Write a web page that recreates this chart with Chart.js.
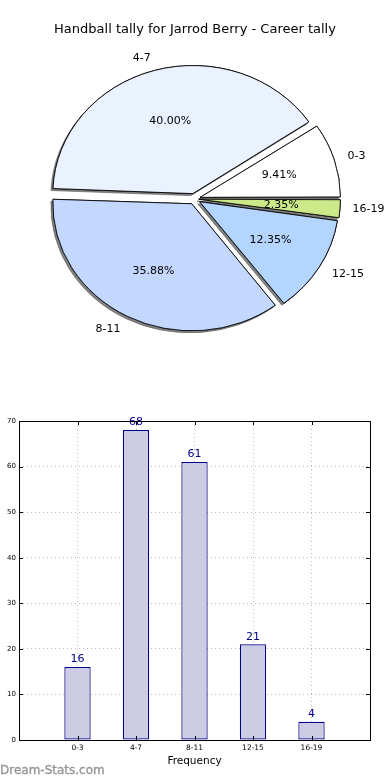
<!DOCTYPE html>
<html><head><meta charset="utf-8">
<script src="https://cdn.jsdelivr.net/npm/chart.js@4/dist/chart.umd.min.js"></script>
<style>
html,body{margin:0;padding:0;background:#fff;width:390px;height:780px;overflow:hidden}
#pieWrap{position:absolute;left:0;top:0;width:390px;height:400px}
#barWrap{position:absolute;left:0;top:400px;width:390px;height:380px}
#wm{position:absolute;left:0;top:763px;font:12px "DejaVu Sans";color:#969696;white-space:nowrap;-webkit-text-stroke:0.35px #969696}
</style></head><body>
<div id="pieWrap"><canvas id="pie"></canvas></div>
<div id="barWrap"><canvas id="bar"></canvas></div>
<div id="wm">Dream-Stats.com</div>
<script>
const chartTitle = 'Handball tally for Jarrod Berry - Career tally';
const categories = ['0-3', '4-7', '8-11', '12-15', '16-19'];
const counts = [16, 68, 61, 21, 4];
const sliceColors = ['#ffffff', '#eaf1ff', '#c4d8ff', '#b3d5ff', '#cdea8a'];
const yTickValues = [0, 10, 20, 30, 40, 50, 60, 70];
const xTickValues = [-1, 0, 1, 2, 3, 4, 5];
const xAxisTitle = 'Frequency';

const FONT = '"DejaVu Sans", sans-serif';
const KY = 0.915;       // vertical squash of the pie (matplotlib non-equal aspect)
const PIE_R = 137.5;
const sliceOffsets = [24, 24, 24, 24, 18];   // arc offset option per slice (Chart.js draws offset/4)
const total = counts.reduce((a, b) => a + b, 0);

// pie drawn clockwise from 3 o'clock: reverse order reproduces matplotlib's CCW layout
const pieLabels = categories.slice().reverse();
const pieValues = counts.slice().reverse();
const pieColors = sliceColors.slice().reverse();
const pieOffsets = sliceOffsets.slice().reverse();

const pieDecor = {
  id: 'pieDecor',
  beforeDatasetsDraw(chart) {
    const meta = chart.getDatasetMeta(0);
    const el0 = meta.data[0];
    const cx = el0.x, cy = el0.y;
    const ctx = chart.ctx;
    ctx.save();
    ctx.translate(cx, cy); ctx.scale(1, KY); ctx.translate(-cx, -cy);
    ctx.save();
    ctx.shadowColor = 'rgba(90,90,90,0.75)';
    ctx.shadowOffsetX = -2; ctx.shadowOffsetY = 2; ctx.shadowBlur = 0;
    meta.data.forEach(a => a.draw(ctx));
    ctx.restore();
  },
  afterDatasetsDraw(chart) {
    const ctx = chart.ctx;
    ctx.restore();
    const meta = chart.getDatasetMeta(0);
    ctx.save();
    ctx.fillStyle = '#000';
    ctx.font = '11px ' + FONT;
    ctx.textBaseline = 'middle';
    meta.data.forEach((a, i) => {
      const mid = (a.startAngle + a.endAngle) / 2;
      const c = Math.cos(mid), s = Math.sin(mid);
      const R = a.outerRadius;
      const eo = pieOffsets[i] / 4;
      const lr = R * 1.12 + eo;
      ctx.textAlign = c > 0 ? 'left' : 'right';
      ctx.fillText(pieLabels[i], a.x + c * lr, a.y + s * lr * KY);
      const pr = R * 0.6 + eo;
      ctx.textAlign = 'center';
      ctx.fillText((pieValues[i] / total * 100).toFixed(2) + '%', a.x + c * pr, a.y + s * pr * KY);
    });
    ctx.font = '13px ' + FONT;
    ctx.textAlign = 'center';
    ctx.fillText(chartTitle, 195, 30);
    ctx.restore();
  }
};

new Chart(document.getElementById('pie'), {
  type: 'pie',
  data: {
    labels: pieLabels,
    datasets: [{
      data: pieValues,
      backgroundColor: pieColors,
      borderColor: '#000',
      borderWidth: 0.9,
      offset: pieOffsets
    }]
  },
  options: {
    animation: false,
    responsive: true,
    maintainAspectRatio: false,
    rotation: 90,
    radius: PIE_R,
    layout: { padding: { left: 0, right: 1, top: 0, bottom: 2.2 } },
    plugins: { legend: { display: false }, tooltip: { enabled: false }, title: { display: false } },
    events: []
  },
  plugins: [pieDecor]
});

const barDecor = {
  id: 'barDecor',
  afterDatasetsDraw(chart) {
    const ctx = chart.ctx;
    const meta = chart.getDatasetMeta(0);
    ctx.save();
    ctx.fillStyle = '#00008b';
    ctx.font = '11px ' + FONT;
    ctx.textAlign = 'center';
    ctx.textBaseline = 'bottom';
    meta.data.forEach((b, i) => ctx.fillText(String(counts[i]), b.x, b.y - 2));
    ctx.restore();
  },
  afterDraw(chart) {
    const ctx = chart.ctx;
    const a = chart.chartArea;
    const xs = chart.scales.x, ys = chart.scales.y;
    ctx.save();
    ctx.strokeStyle = '#000';
    ctx.lineWidth = 1;
    ctx.strokeRect(Math.round(a.left) + 0.5, Math.round(a.top) + 0.5, Math.round(a.right - a.left), Math.round(a.bottom - a.top));
    ctx.beginPath();
    yTickValues.forEach(v => {
      const y = Math.round(ys.getPixelForValue(v)) + 0.5;
      ctx.moveTo(a.left, y); ctx.lineTo(a.left + 4, y);
      ctx.moveTo(a.right, y); ctx.lineTo(a.right - 4, y);
    });
    xTickValues.forEach(v => {
      const x = Math.round(xs.getPixelForValue(v)) + 0.5;
      ctx.moveTo(x, a.bottom); ctx.lineTo(x, a.bottom - 4);
      ctx.moveTo(x, a.top); ctx.lineTo(x, a.top + 4);
    });
    ctx.stroke();
    ctx.restore();
  }
};

new Chart(document.getElementById('bar'), {
  type: 'bar',
  data: {
    datasets: [{
      data: categories.map((c, i) => ({ x: i, y: counts[i] })),
      backgroundColor: '#ccccE4',
      borderColor: '#00008b',
      borderWidth: 1.2,
      borderSkipped: false,
      barPercentage: 0.45,
      categoryPercentage: 1
    }]
  },
  options: {
    animation: false,
    responsive: true,
    maintainAspectRatio: false,
    events: [],
    layout: { padding: { left: 0, right: 20, top: 21, bottom: 12 } },
    plugins: { legend: { display: false }, tooltip: { enabled: false } },
    scales: {
      x: {
        type: 'linear', min: -1, max: 5, offset: false,
        afterBuildTicks: s => { s.ticks = xTickValues.map(v => ({ value: v })); },
        afterFit: s => { s.height = 28; },
        ticks: {
          autoSkip: false, maxRotation: 0, padding: 4,
          font: { family: FONT, size: 7.5 }, color: '#000',
          callback: v => categories[v] ?? ''
        },
        grid: { color: '#bdbdbd', lineWidth: 1, drawTicks: false, offset: false },
        border: { display: false, dash: [1, 3] },
        title: { display: true, text: xAxisTitle, font: { family: FONT, size: 10.5 }, color: '#000', padding: 0 }
      },
      y: {
        min: 0, max: 70,
        afterBuildTicks: s => { s.ticks = yTickValues.map(v => ({ value: v })); },
        afterFit: s => { s.width = 19; },
        ticks: { padding: 3, font: { family: FONT, size: 7 }, color: '#000' },
        grid: { color: '#bdbdbd', lineWidth: 1, drawTicks: false, offset: false },
        border: { display: false, dash: [1, 3] }
      }
    }
  },
  plugins: [barDecor]
});
</script>
</body></html>
